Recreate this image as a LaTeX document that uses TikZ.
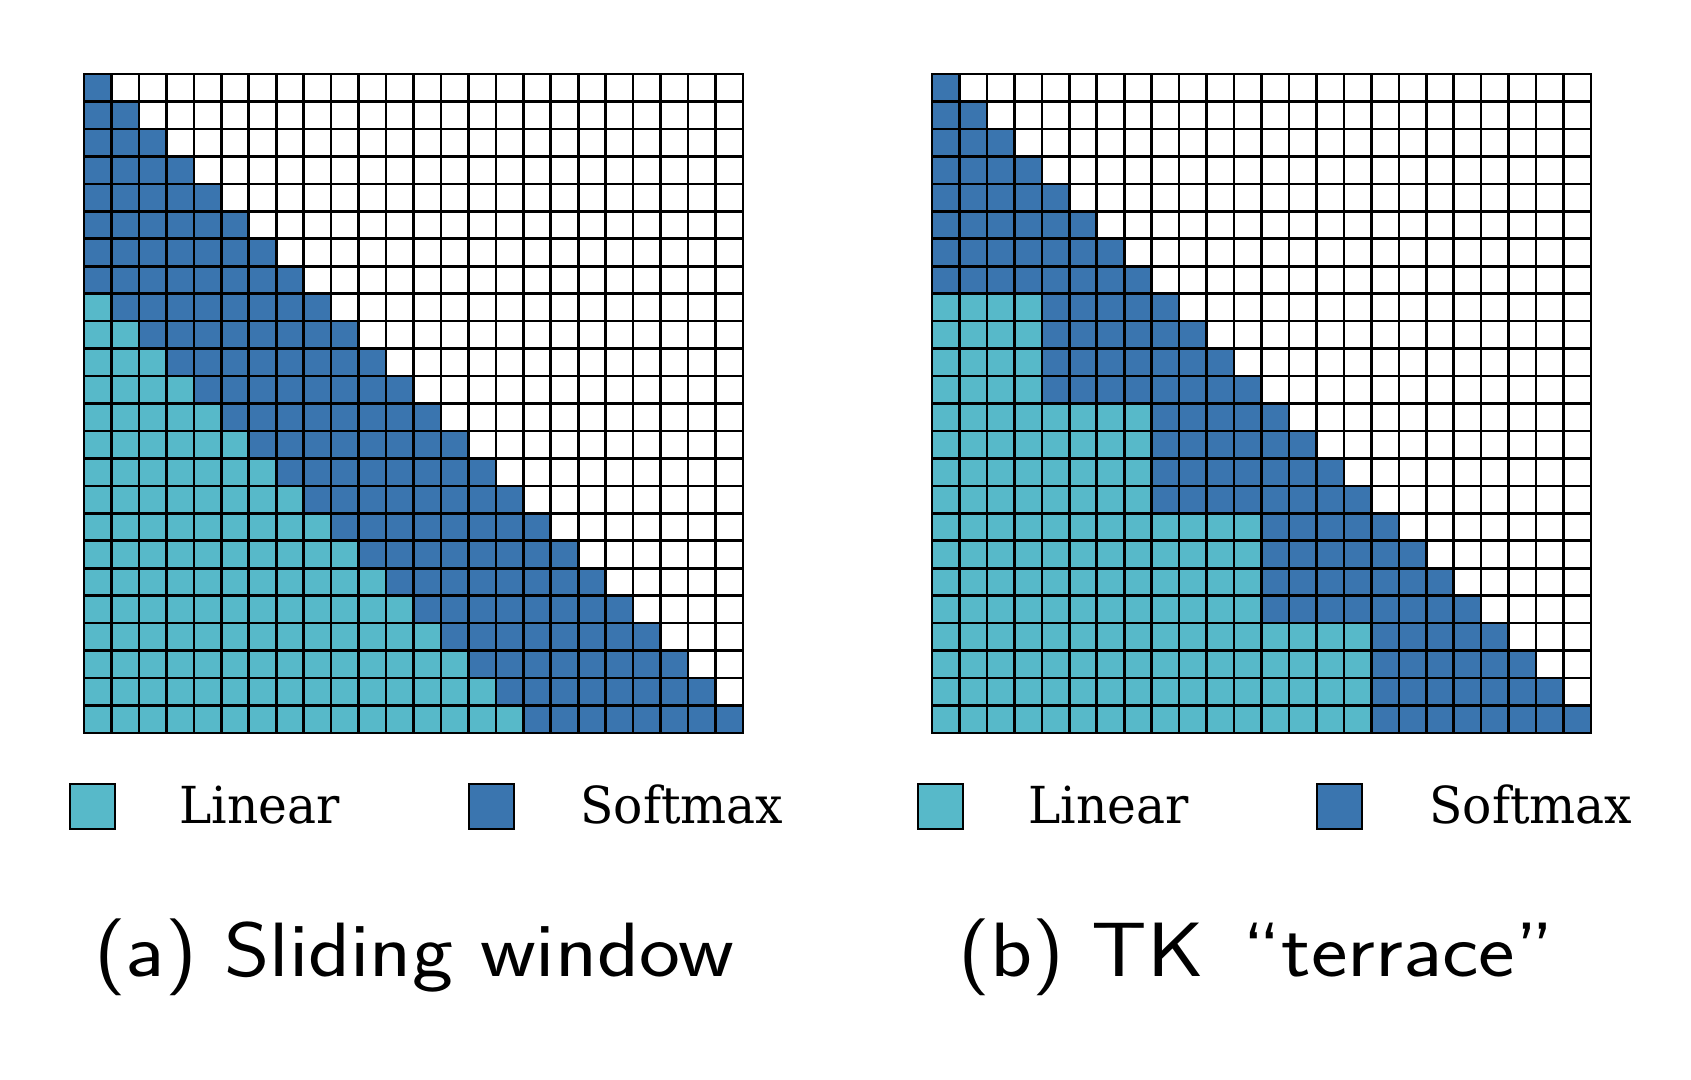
\documentclass[tikz,border=0pt]{standalone}
\usepackage{fontspec}
\newfontfamily\legfont{DejaVu Serif}
\definecolor{lincol}{RGB}{87,185,201}
\definecolor{softcol}{RGB}{58,117,175}
\newcommand{\legscale}[1]{\scalebox{0.955}[1]{#1}}
\newcommand{\capscale}[1]{\scalebox{1.13}[1]{#1}}
\begin{document}
\begin{tikzpicture}[x=0.5pt,y=-0.5pt,
  gridline/.style={line width=1.3pt,black},
  swatch/.style={draw=black,line width=1pt},
  legtext/.style={anchor=base west,inner sep=0pt,font=\legfont\fontsize{25.5}{28}\selectfont},
  captext/.style={anchor=base,inner sep=0pt,font=\sffamily\fontsize{38.5}{42}\selectfont}]
\useasboundingbox (0,0) rectangle (1691,1080);
\fill[white] (0,0) rectangle (1691,1080);
\def\cs{27.4583}
% ---------- left grid: sliding window ----------
\foreach \i in {0,...,23}{
  \foreach \j in {0,...,\i}{
    \pgfmathtruncatemacro{\lin}{(\i-\j>7)}
    \ifnum\lin=1 \def\col{lincol}\else\def\col{softcol}\fi
    \fill[\col] (84+\j*\cs,74+\i*\cs) rectangle ++(\cs,\cs);
  }
}
\foreach \k in {0,...,24}{
  \draw[gridline] (84+\k*\cs,74) -- ++(0,659);
  \draw[gridline] (84,74+\k*\cs) -- ++(659,0);
}
\draw[gridline] (84,74) rectangle (743,733);
% ---------- right grid: terrace ----------
\foreach \i in {0,...,23}{
  \foreach \j in {0,...,\i}{
    \pgfmathtruncatemacro{\lim}{max(0,4*(floor(\i/4)-1))}
    \ifnum\j<\lim \def\col{lincol}\else\def\col{softcol}\fi
    \fill[\col] (932+\j*\cs,74+\i*\cs) rectangle ++(\cs,\cs);
  }
}
\foreach \k in {0,...,24}{
  \draw[gridline] (932+\k*\cs,74) -- ++(0,659);
  \draw[gridline] (932,74+\k*\cs) -- ++(659,0);
}
\draw[gridline] (932,74) rectangle (1591,733);
% ---------- legends ----------
\draw[swatch,fill=lincol] (70,784) rectangle (115,829);
\node[legtext] (linA) at (179,823) {\legscale{Linear}};
\draw[swatch,fill=softcol] (469,784) rectangle (514,829);
\node[legtext] (softA) at (580,823) {\legscale{Softmax}};
\draw[swatch,fill=lincol] (918,784) rectangle (963,829);
\node[legtext] (linB) at (1028,823) {\legscale{Linear}};
\draw[swatch,fill=softcol] (1317,784) rectangle (1362,829);
\node[legtext] (softB) at (1429,823) {\legscale{Softmax}};
% ---------- captions ----------
\node[captext] (capA) at (414,976) {\capscale{(a) Sliding window}};
\node[captext] (capB) at (1256,976) {\capscale{(b) TK\hspace{0.45em}“terrace”}};
\end{tikzpicture}
\end{document}
